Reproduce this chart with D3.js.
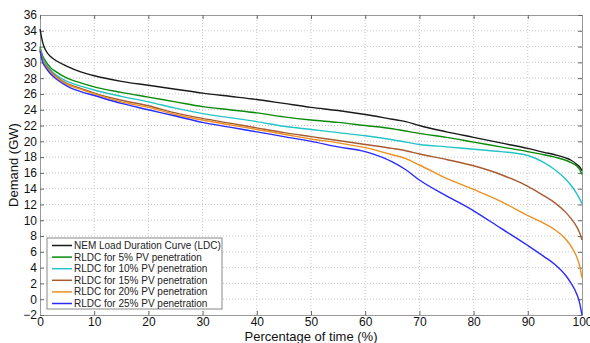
<!DOCTYPE html>
<html>
<head>
<meta charset="utf-8">
<script src="https://cdn.jsdelivr.net/npm/d3@7"></script>
<style>
  body { margin: 0; background: #fff; }
  svg { font-family: "Liberation Sans", Arial, sans-serif; }
</style>
</head>
<body>
<svg id="chart" width="590" height="343"></svg>
<script>
// percentage of time (x) sample points
const pct = [0, 0.5, 1, 2, 3, 5, 7.5, 10, 15, 20, 25, 30, 35, 40, 45, 50, 55, 60, 65, 67.5, 70, 75, 80, 85, 90, 93, 95, 97, 98, 99, 99.5, 100]

// demand (GW) for each curve
const ldc    = [34.2, 32.5, 31.6, 30.7, 30.2, 29.5, 28.8, 28.3, 27.6, 27.1, 26.6, 26.1, 25.7, 25.3, 24.8, 24.3, 23.9, 23.4, 22.8, 22.5, 22.0, 21.2, 20.5, 19.8, 19.1, 18.6, 18.3, 17.9, 17.6, 17.1, 16.8, 16.3]
const pv5    = [32.0, 30.8, 30.2, 29.3, 28.8, 28.0, 27.4, 26.9, 26.2, 25.6, 25.0, 24.4, 24.0, 23.6, 23.1, 22.7, 22.4, 22.0, 21.6, 21.3, 21.0, 20.5, 19.9, 19.3, 18.7, 18.3, 18.0, 17.6, 17.3, 16.9, 16.5, 15.8]
const pv10   = [31.8, 30.5, 29.9, 29.0, 28.4, 27.6, 27.0, 26.5, 25.7, 25.0, 24.2, 23.5, 23.0, 22.5, 21.9, 21.5, 21.1, 20.7, 20.2, 19.9, 19.6, 19.3, 19.0, 18.7, 18.2, 17.3, 16.4, 15.2, 14.4, 13.4, 12.8, 12.1]
const pv15   = [31.7, 30.3, 29.7, 28.8, 28.2, 27.3, 26.7, 26.1, 25.2, 24.5, 23.6, 22.9, 22.3, 21.7, 21.1, 20.6, 20.1, 19.6, 19.1, 18.8, 18.4, 17.7, 16.9, 15.8, 14.3, 13.1, 12.2, 11.0, 10.2, 9.2, 8.5, 7.5]
const pv20   = [31.6, 30.2, 29.6, 28.7, 28.1, 27.2, 26.6, 26.0, 25.0, 24.3, 23.4, 22.7, 22.1, 21.5, 20.9, 20.3, 19.8, 19.2, 18.3, 17.8, 17.0, 15.3, 13.9, 12.4, 10.6, 9.6, 8.8, 7.6, 6.7, 5.4, 4.4, 2.7]
const pv25   = [31.5, 30.0, 29.4, 28.5, 27.9, 27.0, 26.3, 25.8, 24.8, 24.0, 23.2, 22.4, 21.8, 21.2, 20.6, 20.0, 19.3, 18.7, 17.4, 16.4, 15.1, 13.1, 11.2, 9.0, 6.8, 5.4, 4.4, 3.0, 2.0, 0.7, -0.3, -2.0]

const seriesNames = [
  "NEM Load Duration Curve (LDC)",
  "RLDC for 5% PV penetration",
  "RLDC for 10% PV penetration",
  "RLDC for 15% PV penetration",
  "RLDC for 20% PV penetration",
  "RLDC for 25% PV penetration"
]
const seriesColors = ["#1a1a1a", "#0a8a0a", "#22c4c8", "#a85a30", "#ec9020", "#2a2aff"]
const seriesValues = [ldc, pv5, pv10, pv15, pv20, pv25]

const xTicks = d3.range(0, 101, 10)
const yTicks = d3.range(-2, 37, 2)

const MARGIN = { LEFT: 40, RIGHT: 8, TOP: 15, BOTTOM: 28 }
const WIDTH = 590, HEIGHT = 343

const svg = d3.select("#chart")

const xScale = d3.scaleLinear().domain([0, 100]).range([MARGIN.LEFT, WIDTH - MARGIN.RIGHT])
const yScale = d3.scaleLinear().domain([-2, 36]).range([HEIGHT - MARGIN.BOTTOM, MARGIN.TOP])

// grid
const grid = svg.append("g")
grid.selectAll("line.gx")
  .data(xTicks.slice(1, -1))
  .join("line")
  .attr("x1", d => xScale(d)).attr("x2", d => xScale(d))
  .attr("y1", yScale(-2)).attr("y2", yScale(36))
  .attr("stroke", "#c8c8c8")
  .attr("stroke-dasharray", "1,2")
grid.selectAll("line.gy")
  .data(yTicks.slice(1, -1))
  .join("line")
  .attr("x1", xScale(0)).attr("x2", xScale(100))
  .attr("y1", d => yScale(d)).attr("y2", d => yScale(d))
  .attr("stroke", "#c8c8c8")
  .attr("stroke-dasharray", "1,2")

// axes (ticks inward, MATLAB style)
const axisBottom = d3.axisBottom(xScale).tickValues(xTicks).tickSize(-4).tickPadding(2)
const axisLeft = d3.axisLeft(yScale).tickValues(yTicks).tickSize(-4).tickPadding(3)
const axisTop = d3.axisTop(xScale).tickValues(xTicks).tickSize(-4).tickFormat("")
const axisRight = d3.axisRight(yScale).tickValues(yTicks).tickSize(-4).tickFormat("")

function styleAxis(g) {
  g.select(".domain").attr("stroke", "#999")
  g.selectAll(".tick line").attr("stroke", "#666")
  g.selectAll(".tick text").attr("fill", "#111").style("font-size", "12px")
}

svg.append("g").attr("transform", `translate(0,${yScale(-2)})`).call(axisBottom).call(styleAxis)
svg.append("g").attr("transform", `translate(${xScale(0)},0)`).call(axisLeft).call(styleAxis)
svg.append("g").attr("transform", `translate(0,${yScale(36)})`).call(axisTop).call(styleAxis)
svg.append("g").attr("transform", `translate(${xScale(100)},0)`).call(axisRight).call(styleAxis)

// curves
const line = d3.line()
  .x((d, i) => xScale(pct[i]))
  .y(d => yScale(d))
  .curve(d3.curveMonotoneX)

svg.append("g")
  .selectAll("path")
  .data(seriesValues)
  .join("path")
  .attr("fill", "none")
  .attr("stroke", (d, i) => seriesColors[i])
  .attr("stroke-width", 1.4)
  .attr("d", line)

// axis labels
svg.append("text")
  .attr("x", (xScale(0) + xScale(100)) / 2)
  .attr("y", 341)
  .attr("text-anchor", "middle")
  .style("font-size", "13px")
  .attr("fill", "#111")
  .text("Percentage of time (%)")

svg.append("text")
  .attr("transform", `translate(18,${(yScale(-2) + yScale(36)) / 2}) rotate(-90)`)
  .attr("text-anchor", "middle")
  .style("font-size", "13px")
  .attr("fill", "#111")
  .text("Demand (GW)")

// legend
const legend = svg.append("g").attr("transform", "translate(47,238)")
legend.append("rect")
  .attr("width", 175).attr("height", 71)
  .attr("fill", "#fff").attr("stroke", "#888")

const items = legend.selectAll("g")
  .data(seriesNames)
  .join("g")
  .attr("transform", (d, i) => `translate(0,${7.5 + i * 11.6})`)

items.append("line")
  .attr("x1", 5).attr("x2", 25)
  .attr("stroke", (d, i) => seriesColors[i])
  .attr("stroke-width", 1.5)

items.append("text")
  .attr("x", 27).attr("y", 3.5)
  .style("font-size", "10px")
  .attr("fill", "#222")
  .text(d => d)
</script>
</body>
</html>
